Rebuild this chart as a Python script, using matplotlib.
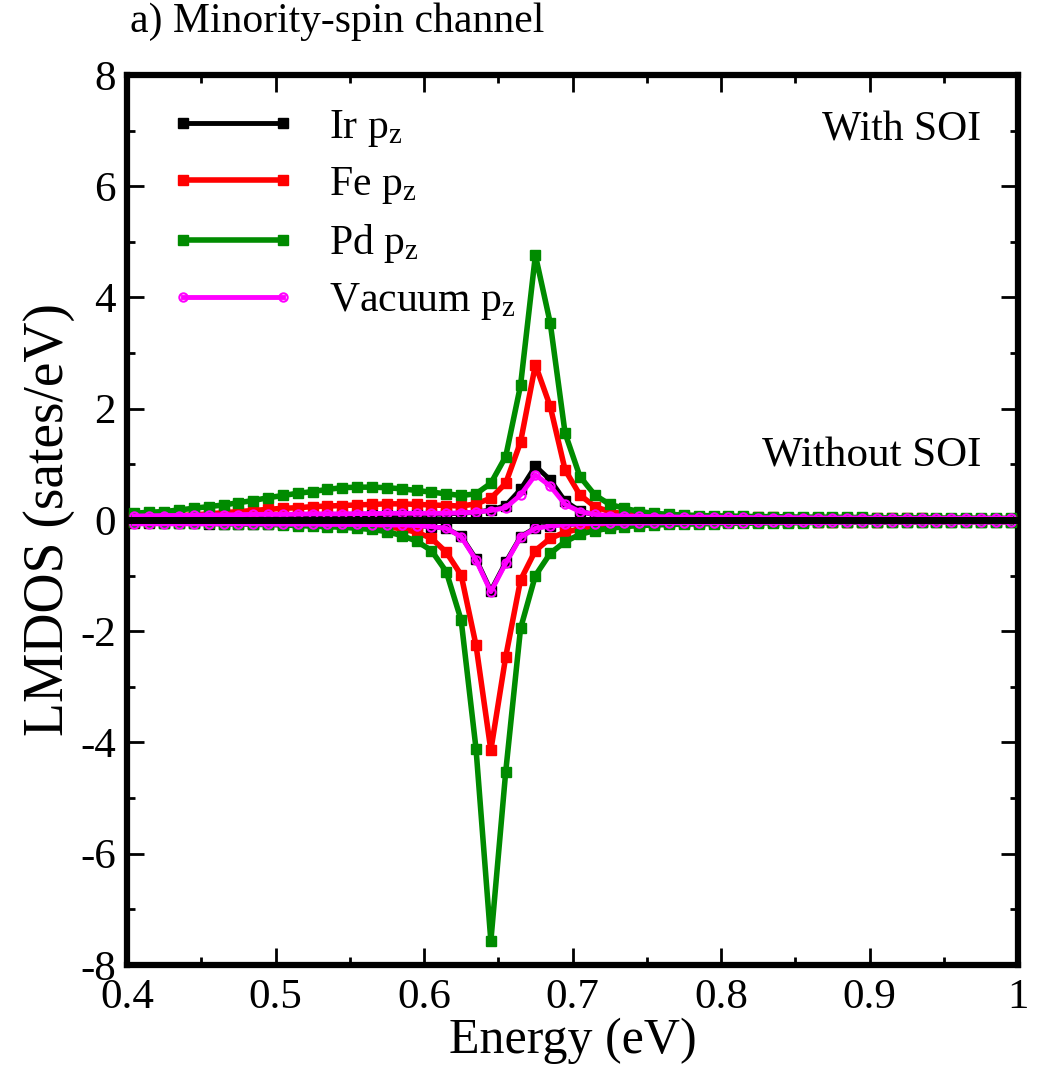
import numpy as np
import matplotlib
matplotlib.use("Agg")
import matplotlib.pyplot as plt

plt.rcParams['font.family'] = ['Liberation Serif', 'DejaVu Serif']
plt.rcParams['mathtext.fontset'] = 'custom'
plt.rcParams['mathtext.rm'] = 'Liberation Serif'
plt.rcParams['mathtext.it'] = 'Liberation Serif:italic'
plt.rcParams['axes.unicode_minus'] = False

# energy grid (eV)
energy = np.linspace(0.405, 0.995, 60)

# With SOI (positive)
ir_soi = [0.04, 0.04, 0.045, 0.05, 0.05, 0.055, 0.06, 0.06, 0.065, 0.07, 0.07, 0.075,
          0.08, 0.08, 0.085, 0.09, 0.09, 0.095, 0.10, 0.10, 0.10, 0.11, 0.12, 0.14,
          0.18, 0.26, 0.55, 0.97, 0.72, 0.34, 0.16, 0.09, 0.07, 0.06, 0.05, 0.05,
          0.045, 0.04, 0.04, 0.04, 0.035, 0.035, 0.035, 0.03, 0.03, 0.03, 0.03, 0.03,
          0.025, 0.025, 0.025, 0.025, 0.02, 0.02, 0.02, 0.02, 0.02, 0.02, 0.02, 0.02]
fe_soi = [0.05, 0.06, 0.07, 0.08, 0.09, 0.11, 0.13, 0.15, 0.17, 0.19, 0.21, 0.22,
          0.24, 0.25, 0.26, 0.27, 0.28, 0.29, 0.29, 0.28, 0.27, 0.26, 0.25, 0.29,
          0.39, 0.66, 1.40, 2.79, 2.04, 0.90, 0.45, 0.24, 0.15, 0.11, 0.09, 0.08,
          0.07, 0.065, 0.06, 0.055, 0.05, 0.05, 0.045, 0.045, 0.04, 0.04, 0.04, 0.035,
          0.035, 0.035, 0.03, 0.03, 0.03, 0.03, 0.025, 0.025, 0.025, 0.025, 0.02, 0.02]
pd_soi = [0.12, 0.14, 0.15, 0.18, 0.21, 0.24, 0.27, 0.31, 0.35, 0.40, 0.44, 0.48,
          0.51, 0.55, 0.58, 0.59, 0.59, 0.58, 0.56, 0.53, 0.50, 0.47, 0.44, 0.47,
          0.66, 1.14, 2.42, 4.76, 3.54, 1.56, 0.78, 0.45, 0.28, 0.21, 0.15, 0.12,
          0.10, 0.09, 0.08, 0.075, 0.07, 0.065, 0.06, 0.06, 0.055, 0.05, 0.05, 0.05,
          0.045, 0.045, 0.04, 0.04, 0.04, 0.04, 0.035, 0.035, 0.035, 0.03, 0.03, 0.03]
vac_soi = [0.07, 0.075, 0.08, 0.08, 0.085, 0.09, 0.09, 0.095, 0.10, 0.10, 0.10, 0.105,
           0.11, 0.11, 0.11, 0.115, 0.115, 0.12, 0.12, 0.12, 0.12, 0.12, 0.13, 0.14,
           0.17, 0.22, 0.45, 0.81, 0.61, 0.28, 0.15, 0.10, 0.08, 0.07, 0.065, 0.06,
           0.055, 0.05, 0.05, 0.05, 0.045, 0.045, 0.04, 0.04, 0.04, 0.04, 0.035, 0.035,
           0.035, 0.035, 0.03, 0.03, 0.03, 0.03, 0.03, 0.03, 0.03, 0.03, 0.03, 0.03]

# Without SOI (plotted as negative)
ir_nosoi = [-0.06, -0.06, -0.06, -0.06, -0.06, -0.065, -0.065, -0.065, -0.065, -0.07, -0.07, -0.07,
            -0.07, -0.075, -0.075, -0.075, -0.08, -0.085, -0.09, -0.10, -0.12, -0.15, -0.29, -0.70,
            -1.27, -0.76, -0.30, -0.14, -0.10, -0.08, -0.07, -0.06, -0.055, -0.055, -0.05, -0.05,
            -0.045, -0.045, -0.045, -0.045, -0.045, -0.04, -0.04, -0.04, -0.04, -0.04, -0.04, -0.035,
            -0.035, -0.035, -0.035, -0.035, -0.035, -0.035, -0.035, -0.035, -0.035, -0.035, -0.035, -0.035]
fe_nosoi = [-0.03, -0.03, -0.035, -0.035, -0.04, -0.04, -0.045, -0.045, -0.05, -0.05, -0.055, -0.06,
            -0.06, -0.065, -0.07, -0.08, -0.10, -0.12, -0.16, -0.22, -0.33, -0.58, -0.99, -2.25,
            -4.14, -2.46, -1.08, -0.55, -0.33, -0.22, -0.16, -0.12, -0.10, -0.08, -0.07, -0.06,
            -0.055, -0.05, -0.05, -0.045, -0.045, -0.04, -0.04, -0.04, -0.035, -0.035, -0.035, -0.03,
            -0.03, -0.03, -0.03, -0.025, -0.025, -0.025, -0.025, -0.02, -0.02, -0.02, -0.02, -0.02]
pd_nosoi = [-0.04, -0.04, -0.05, -0.05, -0.06, -0.06, -0.07, -0.07, -0.08, -0.08, -0.09, -0.10,
            -0.11, -0.12, -0.13, -0.15, -0.17, -0.21, -0.28, -0.38, -0.55, -0.93, -1.80, -4.11,
            -7.57, -4.53, -1.95, -1.00, -0.60, -0.39, -0.26, -0.19, -0.15, -0.12, -0.10, -0.09,
            -0.08, -0.075, -0.07, -0.065, -0.06, -0.06, -0.055, -0.05, -0.05, -0.05, -0.045, -0.045,
            -0.04, -0.04, -0.04, -0.04, -0.035, -0.035, -0.035, -0.03, -0.03, -0.03, -0.03, -0.03]
vac_nosoi = [-0.07, -0.07, -0.07, -0.07, -0.07, -0.07, -0.07, -0.07, -0.07, -0.075, -0.075, -0.075,
             -0.075, -0.08, -0.08, -0.08, -0.085, -0.09, -0.09, -0.10, -0.12, -0.15, -0.30, -0.72,
             -1.29, -0.78, -0.31, -0.15, -0.11, -0.08, -0.07, -0.065, -0.06, -0.06, -0.055, -0.055,
             -0.05, -0.05, -0.05, -0.05, -0.05, -0.05, -0.045, -0.045, -0.045, -0.045, -0.045, -0.045,
             -0.04, -0.04, -0.04, -0.04, -0.04, -0.04, -0.04, -0.04, -0.04, -0.04, -0.04, -0.04]

labels = ["Ir p$_{\\rm z}$", "Fe p$_{\\rm z}$", "Pd p$_{\\rm z}$", "Vacuum p$_{\\rm z}$"]
colors = ["black", "#ff0000", "#008b00", "#ff00ff"]

fig = plt.figure(figsize=(10.48, 10.71), dpi=100)
ax = fig.add_axes([0.1212, 0.099, 0.8502, 0.831])

ax.axhline(0, color='black', lw=5, zorder=8)

styles = [
    dict(marker='s', ms=6.5, lw=3.5, mfc='black', mec='black'),
    dict(marker='s', ms=7, lw=4, mfc=colors[1], mec=colors[1]),
    dict(marker='s', ms=7, lw=4, mfc=colors[2], mec=colors[2]),
    dict(marker='o', ms=6, lw=3.5, mfc='none', mec=colors[3], mew=1.5),
]
pos = [ir_soi, fe_soi, pd_soi, vac_soi]
neg = [ir_nosoi, fe_nosoi, pd_nosoi, vac_nosoi]
zo = [3, 4, 5, 7]
handles = []
for i in range(4):
    h, = ax.plot(energy, pos[i], color=colors[i], label=labels[i], zorder=zo[i], **styles[i])
    ax.plot(energy, neg[i], color=colors[i], zorder=zo[i], **styles[i])
    handles.append(h)

ax.set_xlim(0.4, 1.0)
ax.set_ylim(-8, 8)
ax.set_xticks([0.4, 0.5, 0.6, 0.7, 0.8, 0.9, 1.0])
ax.set_xticklabels(["0.4", "0.5", "0.6", "0.7", "0.8", "0.9", "1"])
ax.set_xticks(np.arange(0.45, 1.0, 0.1), minor=True)
ax.set_yticks(np.arange(-8, 9, 2))
ax.set_yticks(np.arange(-7, 8, 2), minor=True)
ax.tick_params(which='both', direction='in', top=True, right=True, labelsize=31, width=2)
ax.tick_params(which='major', length=12, pad=8)
ax.tick_params(axis='x', which='major', pad=10)
ax.tick_params(which='minor', length=6)
for s in ax.spines.values():
    s.set_linewidth(4.5)

ax.set_xlabel("Energy (eV)", fontsize=36, labelpad=0)
ax.set_ylabel("LMDOS (sates/eV)", fontsize=40, labelpad=4)

leg = ax.legend(handles=handles, loc='upper left', bbox_to_anchor=(0.03, 0.982),
                frameon=False, fontsize=30, handlelength=3.0, numpoints=2,
                labelspacing=0.39, handletextpad=0.8, borderaxespad=0)

ax.text(0.975, 7.0, "With SOI", fontsize=30, ha='right', va='center')
ax.text(0.975, 1.15, "Without SOI", fontsize=31, ha='right', va='center')
fig.text(130 / 1048, 1 - 22 / 1071, "a) Minority-spin channel", fontsize=30, ha='left', va='center')

fig.savefig("out.png", dpi=100)
